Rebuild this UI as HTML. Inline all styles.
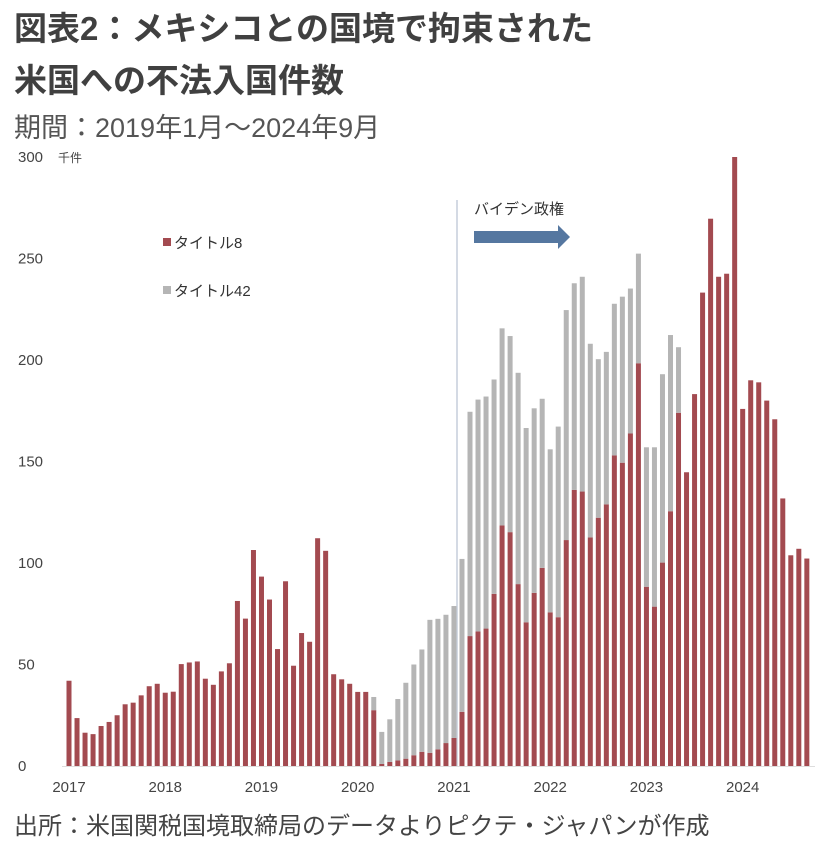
<!DOCTYPE html>
<html><head><meta charset="utf-8">
<style>
html,body{margin:0;padding:0;background:#fff;}
body{width:822px;height:840px;overflow:hidden;position:relative;font-family:"Liberation Sans","Noto Sans CJK JP",sans-serif;color:#444;}
.t{position:absolute;white-space:nowrap;}
</style></head><body>
<div class="t" style="left:14px;top:2px;font-size:33px;color:#404040;font-weight:bold;">図表2：メキシコとの国境で拘束された</div>
<div class="t" style="left:14px;top:54px;font-size:33px;color:#404040;font-weight:bold;">米国への不法入国件数</div>
<div class="t" style="left:14px;top:106px;font-size:27px;color:#555;">期間：2019年1月～2024年9月</div>
<div class="t" style="left:14px;top:806px;font-size:24px;color:#444;">出所：米国関税国境取締局のデータよりピクテ・ジャパンが作成</div>
<svg id="chart" width="822" height="840" style="position:absolute;left:0;top:0" xmlns="http://www.w3.org/2000/svg"></svg>
<script>
const yTicks=[0,50,100,150,200,250,300];
const yearLabels=["2017","2018","2019","2020","2021","2022","2023","2024"];
const title8=[42,23.6,16.4,15.7,19.7,21.7,25,30.4,31.2,34.8,39.3,40.5,
36.1,36.6,50.2,51,51.5,43,40,46.6,50.6,81.3,72.6,106.4,
93.3,82,57.6,91,49.4,65.5,61.2,112.2,106,45.2,42.7,40.5,
36.5,36.5,27.5,1,2,2.7,3.6,5.3,7,6.5,8.2,11.3,
13.8,26.7,64,66.3,67.7,84.8,118.5,115.2,89.6,70.8,85.3,97.6,
75.7,73.3,111.3,136,135.2,112.6,122.3,128.9,153,149.4,163.8,198.4,
88.3,78.5,100.2,125.5,174,144.7,183.2,233.2,269.6,241,242.5,300,
175.9,190,189,180,170.8,131.8,103.8,107,102.2];
const totals=[42,23.6,16.4,15.7,19.7,21.7,25,30.4,31.2,34.8,39.3,40.5,
36.1,36.6,50.2,51,51.5,43,40,46.6,50.6,81.3,72.6,106.4,
93.3,82,57.6,91,49.4,65.5,61.2,112.2,106,45.2,42.7,40.5,
36.5,36.5,34,16.8,23,33,41,50,57.4,72,72.5,74.5,
78.8,102,174.5,180.5,182,190.4,215.6,211.8,193.7,166.5,176.2,180.9,
156,167.2,224.6,237.8,241,208,200.4,204,227.7,231.2,235.2,252.4,
157,157,193,212.3,206.3,144.7,183.2,233.2,269.6,241,242.5,300,
175.9,190,189,180,170.8,131.8,103.8,107,102.2];
const title42=totals.map((t,i)=>Math.max(0,t-title8[i]));

const svg=document.getElementById('chart');
const NS='http://www.w3.org/2000/svg';
const y0=766, pxPer=609/300, x0=69, step=8.02, bw=5;
const yScale=v=>y0-v*pxPer;
const xScale=i=>x0+i*step;
function mk(tag,attrs){const e=document.createElementNS(NS,tag);for(const k in attrs)e.setAttribute(k,attrs[k]);svg.appendChild(e);return e;}

yTicks.forEach(v=>{
  const t=mk('text',{x:18,y:yScale(v)+5,'font-size':15,fill:'#444','font-family':'Liberation Sans, sans-serif'});
  t.textContent=String(v);
  
  
});
const unit=mk('text',{x:58,y:yScale(300)+5,'font-size':12,fill:'#444','font-family':'Liberation Sans, Noto Sans CJK JP, sans-serif'});
unit.textContent='千件';



yearLabels.forEach((l,k)=>{
  const t=mk('text',{x:xScale(k*12),y:792,'font-size':15,fill:'#444','text-anchor':'middle','font-family':'Liberation Sans, sans-serif'});
  t.textContent=l;
  
  
});

const base=mk('line',{x1:62,x2:815,y1:y0+0.5,y2:y0+0.5,stroke:'#ddd','stroke-width':1});



const vline=mk('line',{x1:457,x2:457,y1:200,y2:y0,stroke:'#c5cedb','stroke-width':1.5});



title8.forEach((v,i)=>{
  const r=mk('rect',{x:xScale(i)-bw/2,y:yScale(v),width:bw,height:v*pxPer,fill:'#a34a50'});
  
  
  const g=title42[i];
  if(g>0){
    const r2=mk('rect',{x:xScale(i)-bw/2,y:yScale(v+g),width:bw,height:g*pxPer,fill:'#b5b5b5'});
    
    
  }
});

const arrow=mk('polygon',{points:'474,231 558,231 558,225 570,237 558,249 558,243 474,243',fill:'#5577a0'});


const bl=mk('text',{x:474,y:214,'font-size':15,fill:'#333','font-family':'Liberation Sans, Noto Sans CJK JP, sans-serif'});
bl.textContent='バイデン政権';



const l1=mk('rect',{x:163,y:238,width:8,height:8,fill:'#a34a50'});


const lt1=mk('text',{x:174,y:248,'font-size':15,fill:'#333','font-family':'Liberation Sans, Noto Sans CJK JP, sans-serif'});
lt1.textContent='タイトル8';


const l2=mk('rect',{x:163,y:286,width:8,height:8,fill:'#b5b5b5'});


const lt2=mk('text',{x:174,y:296,'font-size':15,fill:'#333','font-family':'Liberation Sans, Noto Sans CJK JP, sans-serif'});
lt2.textContent='タイトル42';


</script>
</body></html>
